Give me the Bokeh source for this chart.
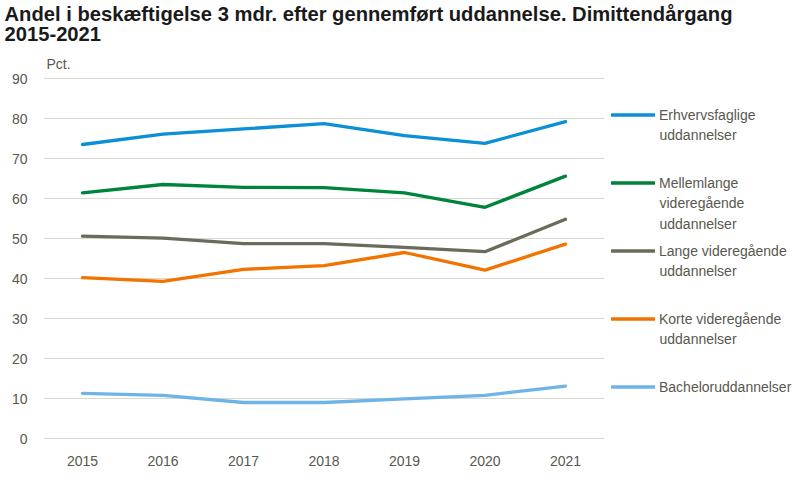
from bokeh.plotting import figure
from bokeh.models import Range1d, FixedTicker, Legend, LegendItem, Label, Grid
from bokeh.embed import file_html
from bokeh.resources import INLINE

# ---- data ----
years = [2015, 2016, 2017, 2018, 2019, 2020, 2021]
erhvervsfaglige = [73.5, 76.1, 77.4, 78.7, 75.7, 73.8, 79.2]
mellemlange = [61.4, 63.5, 62.8, 62.7, 61.4, 57.8, 65.6]
lange = [50.6, 50.1, 48.7, 48.7, 47.8, 46.7, 54.8]
korte = [40.2, 39.3, 42.3, 43.2, 46.5, 42.1, 48.6]
bachelor = [11.3, 10.8, 9.0, 9.0, 9.9, 10.8, 13.1]
y_ticks = [0, 10, 20, 30, 40, 50, 60, 70, 80, 90]

series_names = [
    ["Erhvervsfaglige", "uddannelser"],
    ["Mellemlange", "videregående", "uddannelser"],
    ["Lange videregående", "uddannelser"],
    ["Korte videregående", "uddannelser"],
    ["Bacheloruddannelser"],
]
series_values = [erhvervsfaglige, mellemlange, lange, korte, bachelor]
series_colors = ["#0b8fd6", "#00843c", "#6b6b5c", "#f27300", "#6eb4e6"]

title_text = "Andel i beskæftigelse 3 mdr. efter gennemført uddannelse. Dimittendårgang\n2015-2021"
unit_label = "Pct."

FONT = "Liberation Sans"
TEXT_COLOR = "#58584e"

# ---- layout (pixels) ----
W, H = 800, 482
FRAME_L, FRAME_T, FRAME_B = 43, 46, 439
PX_PER_YEAR = 80.5
X2015_PX = 82
PX_PER_UNIT = 4.0
Y0_PX = 438
GRID_RIGHT_PX = 604


def xd(px):
    return 2015 + (px - X2015_PX) / PX_PER_YEAR


def yd(py):
    return (Y0_PX - py) / PX_PER_UNIT


x_start, x_end = xd(FRAME_L), xd(W)
y_start, y_end = yd(FRAME_B), yd(FRAME_T)

p = figure(width=W, height=H, output_backend="svg", toolbar_location=None,
           x_range=Range1d(x_start, x_end), y_range=Range1d(y_start, y_end),
           min_border_left=FRAME_L, min_border_right=0, min_border_top=FRAME_T,
           min_border_bottom=H - FRAME_B)
p.outline_line_color = None
p.background_fill_color = "white"
p.border_fill_color = "white"

p.title.text = title_text
p.title.align = "left"
p.title.offset = -39
p.title.standoff = 2
p.title.text_font = FONT
p.title.text_font_size = "20.2px"
p.title.text_font_style = "bold"
p.title.text_color = "#1a1a1a"
p.title.text_line_height = 0.91

# axes
p.xaxis.ticker = FixedTicker(ticks=years)
p.yaxis.ticker = FixedTicker(ticks=y_ticks)
for ax in (p.xaxis[0], p.yaxis[0]):
    ax.axis_line_color = None
    ax.major_tick_line_color = None
    ax.minor_tick_line_color = None
    ax.major_tick_in = 0
    ax.major_tick_out = 0
    ax.minor_tick_in = 0
    ax.minor_tick_out = 0
    ax.major_label_text_font = FONT
    ax.major_label_text_font_size = "14px"
    ax.major_label_text_color = TEXT_COLOR
p.yaxis.major_label_standoff = 16
p.xaxis.major_label_standoff = 16

p.xgrid.grid_line_color = None
GRID_COLOR = "#d9d9d0"
if "cross_bounds" in Grid.properties():
    p.ygrid.grid_line_color = GRID_COLOR
    p.ygrid.grid_line_width = 1
    p.ygrid.cross_bounds = (x_start, xd(GRID_RIGHT_PX))
else:
    p.ygrid.grid_line_color = None
    p.segment(x0=[x_start] * len(y_ticks), x1=[xd(GRID_RIGHT_PX)] * len(y_ticks),
              y0=y_ticks, y1=y_ticks, line_color=GRID_COLOR, line_width=1)

# lines
renderers = []
for vals, col in zip(series_values, series_colors):
    r = p.line(years, vals, line_color=col, line_width=3.3, line_join="round", line_cap="round")
    renderers.append(r)

items = [LegendItem(label=names[0], renderers=[r]) for names, r in zip(series_names, renderers)]
legend = Legend(items=items, location=(611 - FRAME_L, 42), orientation="vertical",
                glyph_width=44, glyph_height=21, label_height=21, label_standoff=4,
                spacing=47, padding=0, margin=0, border_line_color=None,
                background_fill_alpha=0, label_text_font=FONT,
                label_text_font_size="14px", label_text_color=TEXT_COLOR,
                label_text_baseline="middle")
p.add_layout(legend, "center")

first_line_y = [114, 182, 250, 318, 386]
for names, fy in zip(series_names, first_line_y):
    for k, extra in enumerate(names[1:], start=1):
        p.add_layout(Label(x=xd(659), y=yd(fy + 20.5 * k), text=extra,
                           text_font=FONT, text_font_size="14px",
                           text_color=TEXT_COLOR, text_baseline="middle",
                           text_align="left"))

p.add_layout(Label(x=xd(46), y=yd(63.5), text=unit_label, text_font=FONT,
                   text_font_size="14px", text_color=TEXT_COLOR,
                   text_baseline="middle"))

open("out.html", "w").write(file_html(p, INLINE))
